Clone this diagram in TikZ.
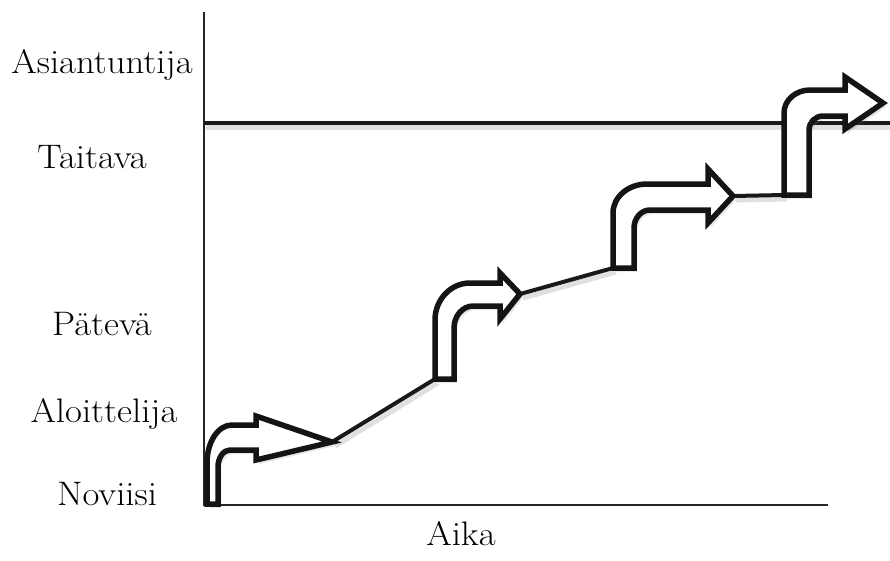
\documentclass[tikz,border=0pt]{standalone}
\usetikzlibrary{shadows}
\newcommand{\widetxt}[1]{\scalebox{1.08}[1]{#1}}
\begin{document}
\begin{tikzpicture}[x=1pt,y=-1pt,
  lbl/.style={anchor=base,inner sep=0pt,font=\fontsize{34}{40}\selectfont},
  axisline/.style={line width=2pt,black!85},
  levelline/.style={line width=4pt,black!90,
    preaction={draw=black!40,opacity=0.3,line width=5pt,transform canvas={xshift=2pt,yshift=-4pt}}},
  conn/.style={line width=4pt,black!90,line join=round,
    preaction={draw=black!40,opacity=0.3,line width=5pt,transform canvas={xshift=3pt,yshift=-4pt}}},
  stairarrow/.style={line width=5.5pt,black!92,fill=white,line join=miter,
    drop shadow={shadow xshift=3pt,shadow yshift=-4pt,opacity=0.2}}
]
\useasboundingbox (0,0) rectangle (890,560);

% labels
\node[lbl] (lAsi) at (102,73) {\widetxt{Asiantuntija}};
\node[lbl] (lTai) at (92,168) {\widetxt{Taitava}};
\node[lbl] (lPat) at (102,335) {\widetxt{Pätevä}};
\node[lbl] (lAlo) at (104,422) {\widetxt{Aloittelija}};
\node[lbl] (lNov) at (107,505) {\widetxt{Noviisi}};
\node[lbl] (lAik) at (461,545) {\widetxt{Aika}};

% axes
\coordinate (ytop) at (204,12);
\coordinate (orig) at (204,505);
\coordinate (xend) at (828,505);
\draw[axisline] (ytop) -- (orig) -- (xend);

% level line
\coordinate (lvA) at (204,123);
\coordinate (lvB) at (892,123);
\draw[levelline] (lvA) -- (lvB);

% key points
\coordinate (t1) at (332,442);
\coordinate (b2) at (435,379);
\coordinate (t2) at (520,294);
\coordinate (b3) at (613,268);
\coordinate (t3) at (733,196);
\coordinate (b4) at (784,195);

% connectors
\draw[conn] (t1) -- (b2);
\draw[conn] (t2) -- (b3);
\draw[conn] (t3) -- (b4);

% arrow 1
\draw[stairarrow] (207,504) -- (207,463) .. controls (207,442) and (218,425) .. (232,425)
  -- (256,425) -- (256,416) -- (t1) -- (256,460) -- (256,450) -- (230,450)
  .. controls (223.4,450) and (218,457.6) .. (218,467) -- (218,504) -- cycle;

% arrow 2
\draw[stairarrow] (b2) -- (435,320) .. controls (435,299.6) and (450.7,283) .. (470,283)
  -- (500,283) -- (500,273) -- (t2) -- (500,319) -- (500,306) -- (473,306)
  .. controls (462.5,306) and (454,316) .. (454,328) -- (454,379) -- cycle;

% arrow 3
\draw[stairarrow] (b3) -- (613,213) .. controls (613,197) and (628.2,184) .. (647,184)
  -- (708,184) -- (708,169) -- (t3) -- (708,223) -- (708,210) -- (650,210)
  .. controls (641.2,210) and (634,218.1) .. (634,228) -- (634,268) -- cycle;

% arrow 4
\coordinate (t4) at (883,103);
\draw[stairarrow] (b4) -- (784,113) .. controls (784,100.3) and (795.6,90) .. (810,90)
  -- (845,90) -- (845,77) -- (t4) -- (845,129) -- (845,116) -- (823,116)
  .. controls (815.3,116) and (809,122.3) .. (809,130) -- (809,195) -- cycle;
\end{tikzpicture}
\end{document}
